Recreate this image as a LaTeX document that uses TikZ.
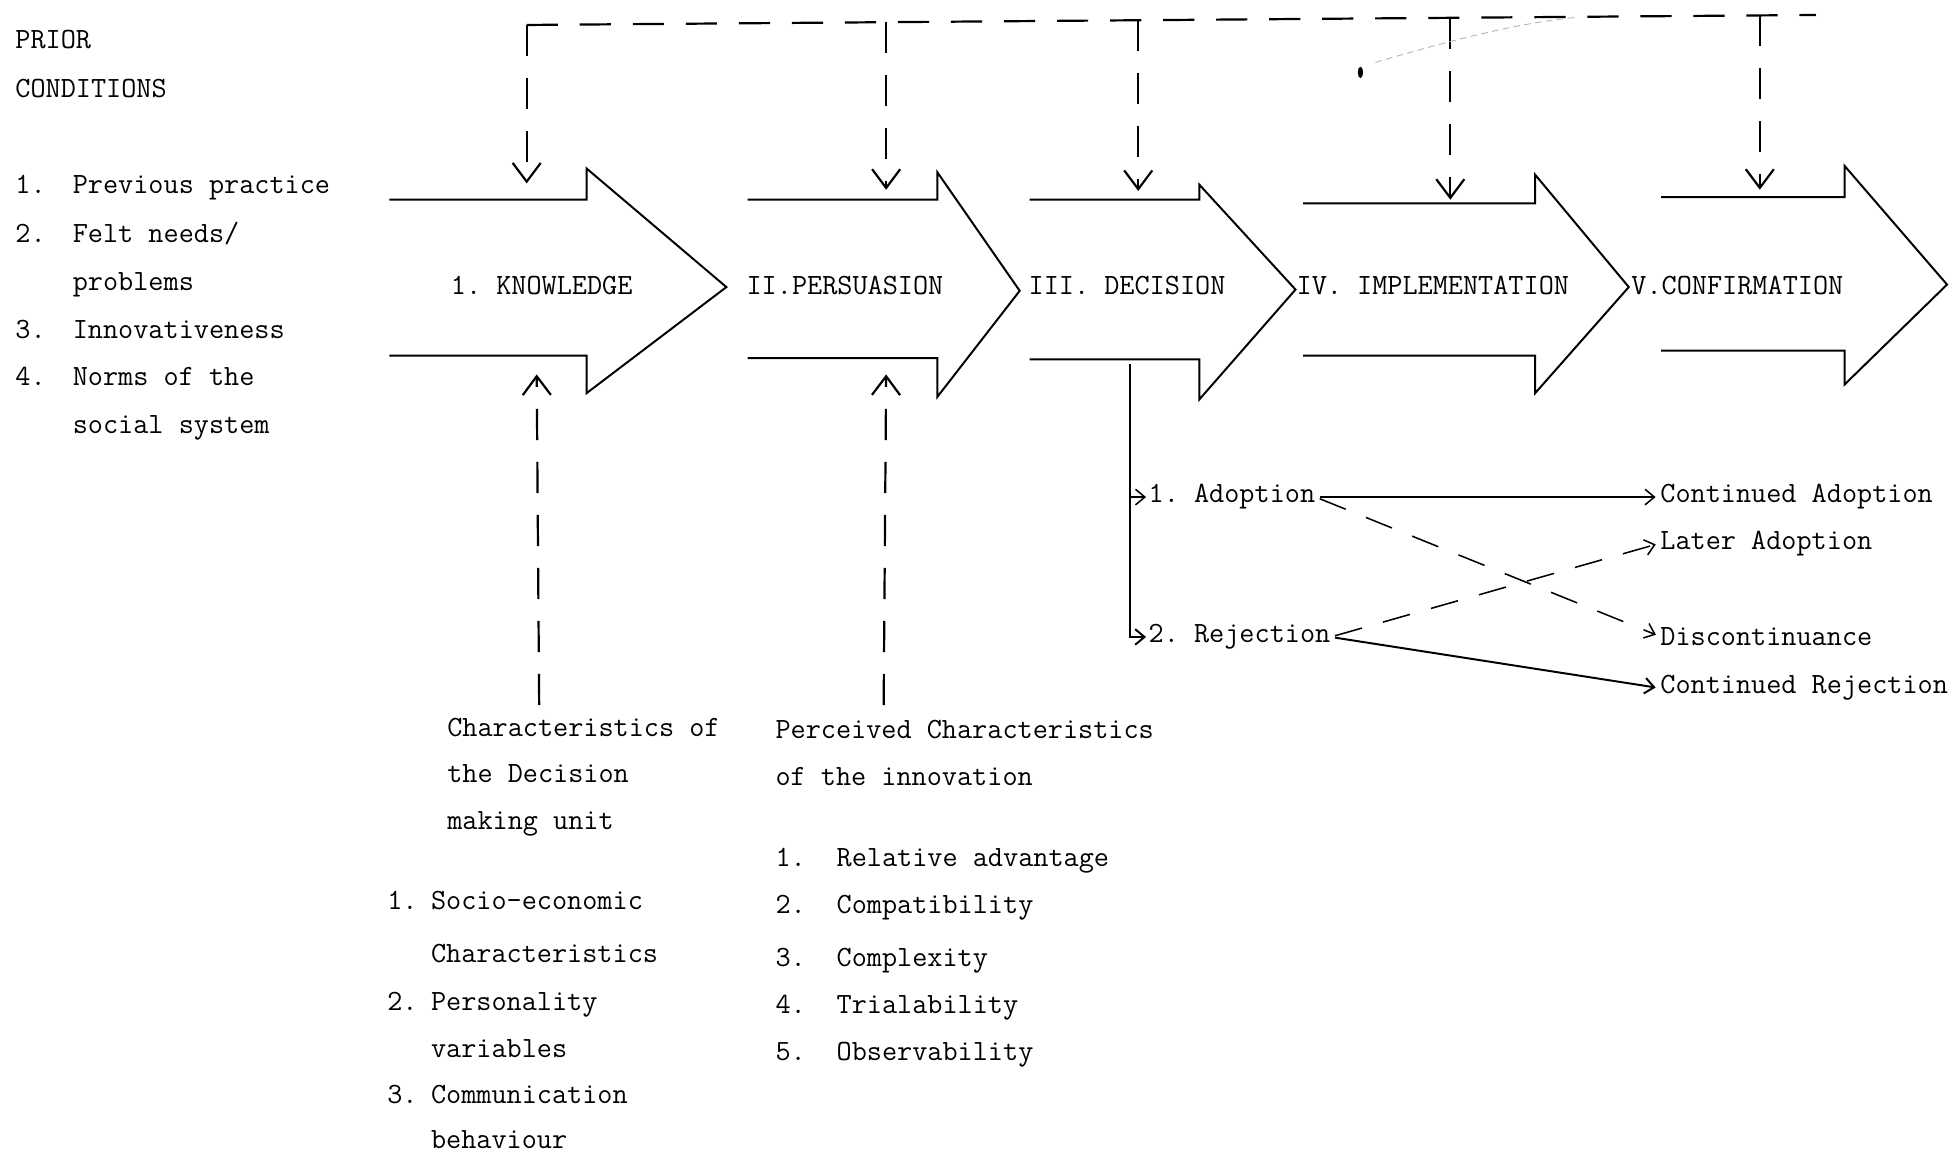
\documentclass[tikz,border=0pt]{standalone}
\usepackage{tikz}
\usetikzlibrary{arrows.meta}

\tikzset{
  txt/.style={font=\ttfamily\frenchspacing\fontsize{13.4}{16}\selectfont, inner sep=0pt, anchor=base west},
  stagelabel/.style={font=\ttfamily\frenchspacing\fontsize{13.4}{16}\selectfont, inner sep=0pt},
  stage/.style={line width=0.9pt, line join=miter},
  dashline/.style={line width=1pt, dash pattern=on 0.5cm off 0.35cm},
  crossline/.style={line width=0.7pt, dash pattern=on 0.45cm off 0.35cm},
  droptip/.style={-{Straight Barb[length=3mm,width=4.5mm]}},
  smalltip/.style={-{Straight Barb[length=1.5mm,width=2.5mm]}, line width=0.7pt}
}

\begin{document}
\begin{tikzpicture}[x=0.02cm,y=-0.02cm]
    \useasboundingbox (0,0) rectangle (1568,924);
    % prior conditions
    \node[txt] (prior) at (12,39) {PRIOR};
    \node[txt] (cond) at (12,78) {CONDITIONS};
    \foreach \i/\y/\nr/\word in
    {
      1/155/1./Previous practice,
      2/194/2./{Felt needs/},
      3/233/{}/problems,
      4/271/3./Innovativeness,
      5/309/4./Norms of the,
      6/347/{}/social system
    }
    {
      \node[txt] (pcnr\i) at (12,\y) {\nr};
      \node[txt] (pc\i) at (58,\y) {\word};
    };
    % the five stages
    \foreach \name/\lab/\xa/\xh/\yt/\yb/\yht/\yhb/\xt/\yc/\xl in
    {
      know/{1. KNOWLEDGE}/312/470/160/285/135/315/582/230/434,
      pers/{II.PERSUASION}/599/751/160/287/138/318/817/233/677,
      deci/{III. DECISION}/825/961/160/288/148/320/1038/232/903,
      impl/{IV. IMPLEMENTATION}/1044/1230/163/285/140/315/1305/230/1148,
      conf/{V.CONFIRMATION}/1331/1478/158/281/133/308/1560/228/1392
    }
    {
      \draw[stage] (\xa,\yt) -- (\xh,\yt) -- (\xh,\yht) -- (\xt,\yc) -- (\xh,\yhb) -- (\xh,\yb) -- (\xa,\yb);
      \node[stagelabel] (\name) at (\xl,229) {\lab};
    };
    % feedback from prior conditions
    \coordinate (fbstart) at (422,20);
    \coordinate (fbend) at (1455,12);
    \draw[dashline] (fbstart) -- (fbend);
    \foreach \i/\x/\yb in {1/422/147, 2/710/152, 3/912/153, 4/1162/160, 5/1410/152}
    {
      \pgfmathsetmacro\ya{20 - 8*(\x-422)/988}
      \coordinate (top\i) at (\x,\ya);
      \coordinate (in\i) at (\x,\yb);
      \draw[dashline, droptip] (top\i) -- (in\i);
    };
    \draw[gray!60, line width=0.4pt, dash pattern=on 3pt off 2pt] (1102,50) .. controls (1170,30) and (1220,18) .. (1262,14);
    \fill (1090,58) ellipse (1.2pt and 2.6pt);
    % decision making unit
    \node[txt] (unit1) at (358,590) {Characteristics of};
    \node[txt] (unit2) at (358,627) {the Decision};
    \node[txt] (unit3) at (358,665) {making unit};
    \foreach \i/\y/\nr/\word in
    {
      1/729/1./Socio-economic,
      2/771/{}/Characteristics,
      3/810/2./Personality,
      4/847/{}/variables,
      5/884/3./Communication,
      6/920/{}/behaviour
    }
    {
      \node[txt] (unr\i) at (310,\y) {\nr};
      \node[txt] (u\i) at (345,\y) {\word};
    };
    % perceived characteristics
    \node[txt] (innov1) at (621,592) {Perceived Characteristics};
    \node[txt] (innov2) at (621,629) {of the innovation};
    \foreach \i/\y/\nr/\word in
    {
      1/694/1./Relative advantage,
      2/732/2./Compatibility,
      3/774/3./Complexity,
      4/812/4./Trialability,
      5/850/5./Observability
    }
    {
      \node[txt] (inr\i) at (621,\y) {\nr};
      \node[txt] (i\i) at (670,\y) {\word};
    };
    \coordinate (unitup) at (432,565);
    \coordinate (knowin) at (430,300);
    \coordinate (innovup) at (708,565);
    \coordinate (persin) at (710,300);
    \draw[dashline, droptip] (unitup) -- (knowin);
    \draw[dashline, droptip] (innovup) -- (persin);
    % adoption / rejection
    \node[txt] (adopt) at (920,403) {1. Adoption};
    \node[txt] (reject) at (920,515) {2. Rejection};
    \node[txt] (contadopt) at (1330,403) {Continued Adoption};
    \node[txt] (later) at (1330,440) {Later Adoption};
    \node[txt] (discont) at (1330,517) {Discontinuance};
    \node[txt] (contreject) at (1330,556) {Continued Rejection};
    \coordinate (branch) at (905,292);
    \draw[smalltip, line width=0.9pt] (branch) |- ([xshift=-1pt]reject.west);
    \draw[smalltip] (branch |- adopt.west) -- ([xshift=-1pt]adopt.west);
    \draw[smalltip, shorten <=2pt, shorten >=2pt] (adopt.east) -- (contadopt.west);
    \draw[smalltip, crossline, shorten <=2pt, shorten >=2pt] (adopt.east) -- (discont.west);
    \draw[smalltip, crossline, shorten <=2pt, shorten >=2pt] (reject.east) -- (later.west);
    \draw[smalltip, line width=0.9pt, shorten <=2pt, shorten >=2pt] (reject.east) -- (contreject.west);
\end{tikzpicture}
\end{document}
